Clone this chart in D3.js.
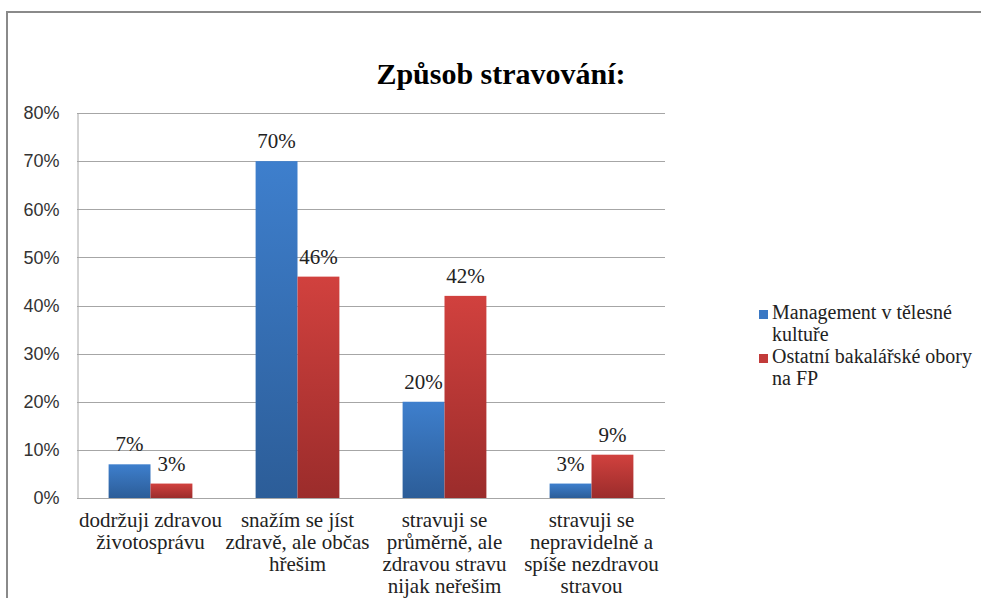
<!DOCTYPE html>
<html>
<head>
<meta charset="utf-8">
<script src="https://cdn.jsdelivr.net/npm/d3@7"></script>
<style>
  html, body { margin: 0; padding: 0; background: #fff; }
  svg { display: block; }
</style>
</head>
<body>
<div id="chart"></div>
<script>
// Způsob stravování — grouped bars, two study groups
const categories = [
    'dodržuji zdravou životosprávu',
    'snažím se jíst zdravě, ale občas hřeším',
    'stravuji se průměrně, ale zdravou stravu nijak neřeším',
    'stravuji se nepravidelně a spíše nezdravou stravou'
];
const categoryLines = [
    ['dodržuji zdravou', 'životosprávu'],
    ['snažím se jíst', 'zdravě, ale občas', 'hřešim'],
    ['stravuji se', 'průměrně, ale', 'zdravou stravu', 'nijak neřešim'],
    ['stravuji se', 'nepravidelně a', 'spíše nezdravou', 'stravou']
];
const seriesNames = ['Management v tělesné kultuře', 'Ostatní bakalářské obory na FP'];
const legendLines = [['Management v tělesné', 'kultuře'], ['Ostatní bakalářské obory', 'na FP']];
const managementValues = [7, 70, 20, 3];
const otherValues = [3, 46, 42, 9];
const yTicks = [0, 10, 20, 30, 40, 50, 60, 70, 80];

const width = 981, height = 598;
const plot = { left: 77, right: 665, top: 113, bottom: 498 };
const serif = "'Liberation Serif', 'Times New Roman', serif";

const svg = d3.select('#chart').append('svg')
    .attr('width', width)
    .attr('height', height);

// gradients for bars (lighter top, darker bottom)
const defs = svg.append('defs');
const grads = [
    { id: 'gBlue', top: '#3e7fcd', bottom: '#2c5d98' },
    { id: 'gRed', top: '#d1413e', bottom: '#9b2c2b' }
];
grads.forEach(g => {
    const lg = defs.append('linearGradient')
        .attr('id', g.id).attr('x1', 0).attr('y1', 0).attr('x2', 0).attr('y2', 1);
    lg.append('stop').attr('offset', '0%').attr('stop-color', g.top);
    lg.append('stop').attr('offset', '100%').attr('stop-color', g.bottom);
});
const fills = ['url(#gBlue)', 'url(#gRed)'];
const swatch = ['#3a78c4', '#c23b3a'];

// outer frame (cropped on right and bottom)
svg.append('rect')
    .attr('x', 7).attr('y', 12)
    .attr('width', 1000).attr('height', 620)
    .attr('fill', 'none')
    .attr('stroke', '#8a8a8a')
    .attr('stroke-width', 2);

// title
svg.append('text')
    .attr('x', 501).attr('y', 84)
    .attr('text-anchor', 'middle')
    .attr('font-family', serif)
    .attr('font-weight', 'bold')
    .attr('font-size', '30px')
    .attr('fill', '#000')
    .text('Způsob stravování:');

const y = d3.scaleLinear().domain([0, 80]).range([plot.bottom, plot.top]);
const x0 = d3.scaleBand().domain(categories).range([plot.left, plot.right])
    .paddingInner(0.43).paddingOuter(0.215);
const x1 = d3.scaleBand().domain(seriesNames).range([0, x0.bandwidth()]);

// gridlines
svg.append('g')
    .selectAll('line')
    .data(yTicks)
    .join('line')
    .attr('x1', plot.left).attr('x2', plot.right)
    .attr('y1', d => Math.round(y(d)) + 0.5)
    .attr('y2', d => Math.round(y(d)) + 0.5)
    .attr('stroke', '#a6a6a6')
    .attr('stroke-width', 1);

// y axis
const yAxis = svg.append('g')
    .attr('transform', `translate(${plot.left + 0.5},0)`)
    .call(d3.axisLeft(y).tickValues(yTicks).tickSize(0).tickPadding(18).tickFormat(d => d + '%'));
yAxis.select('.domain').attr('stroke', '#a6a6a6');
yAxis.selectAll('text')
    .attr('font-family', "'Liberation Sans', Arial, sans-serif")
    .attr('font-size', '18px')
    .attr('fill', '#333');

// bars
const rows = categories.map((c, i) => ({ cat: c, vals: [managementValues[i], otherValues[i]] }));
const groups = svg.append('g')
    .selectAll('g')
    .data(rows)
    .join('g')
    .attr('transform', d => `translate(${x0(d.cat)},0)`);

groups.selectAll('rect')
    .data(d => d.vals.map((v, k) => ({ v, k })))
    .join('rect')
    .attr('x', d => x1(seriesNames[d.k]))
    .attr('width', x1.bandwidth())
    .attr('y', d => y(d.v))
    .attr('height', d => y(0) - y(d.v))
    .attr('fill', d => fills[d.k]);

groups.selectAll('text')
    .data(d => d.vals.map((v, k) => ({ v, k })))
    .join('text')
    .attr('x', d => x1(seriesNames[d.k]) + x1.bandwidth() / 2)
    .attr('y', d => y(d.v) - 13)
    .attr('text-anchor', 'middle')
    .attr('font-family', serif)
    .attr('font-size', '21px')
    .attr('fill', '#222')
    .text(d => d.v + '%');

// category labels
categories.forEach((c, i) => {
    const t = svg.append('text')
        .attr('text-anchor', 'middle')
        .attr('font-family', serif)
        .attr('font-size', '21px')
        .attr('fill', '#222');
    categoryLines[i].forEach((line, j) => {
        t.append('tspan')
            .attr('x', x0(c) + x0.bandwidth() / 2)
            .attr('y', 527 + j * 22)
            .text(line);
    });
});

// legend
const legend = svg.append('g');
const legendY = [319, 363];
seriesNames.forEach((s, i) => {
    legend.append('rect')
        .attr('x', 759).attr('y', legendY[i] - 9)
        .attr('width', 9).attr('height', 9)
        .attr('fill', swatch[i]);
    const t = legend.append('text')
        .attr('font-family', serif)
        .attr('font-size', '20px')
        .attr('fill', '#222');
    legendLines[i].forEach((line, j) => {
        t.append('tspan')
            .attr('x', 772)
            .attr('y', legendY[i] + j * 22)
            .text(line);
    });
});
</script>
</body>
</html>
